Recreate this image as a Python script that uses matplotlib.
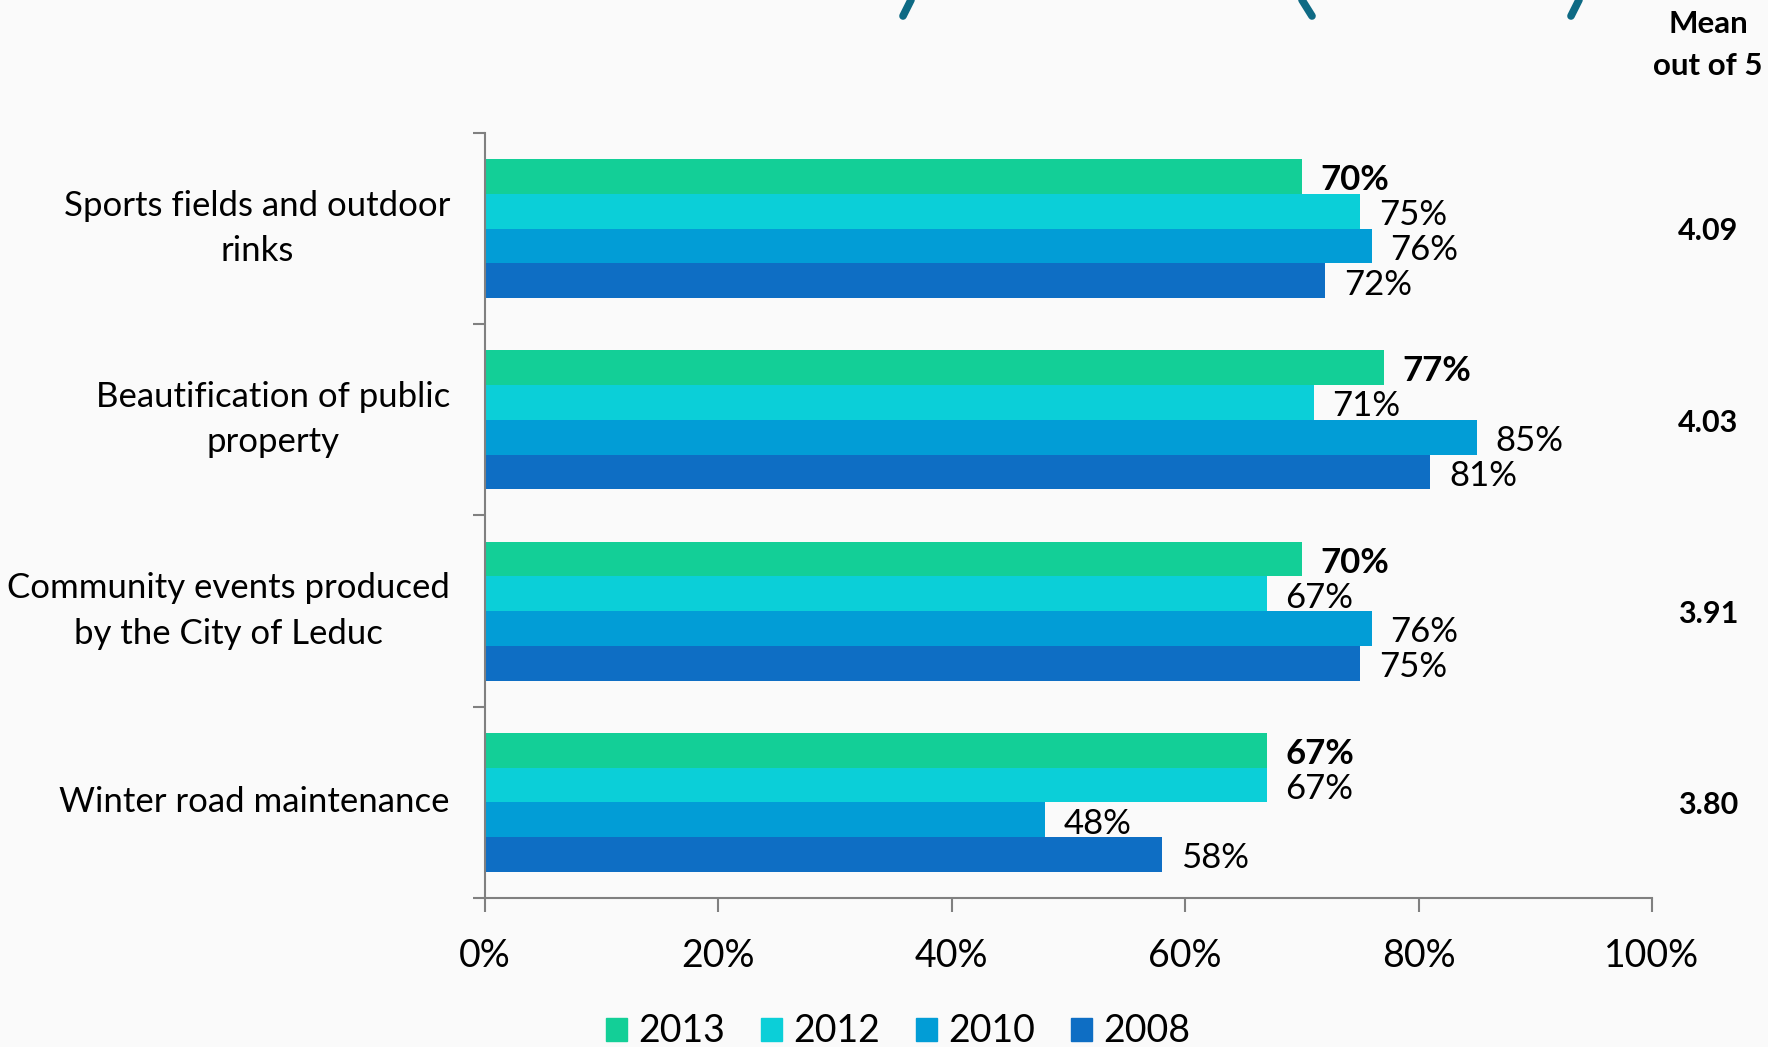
import numpy as np
import matplotlib.pyplot as plt
import matplotlib.transforms as mtransforms
from matplotlib.patches import Patch
from matplotlib.lines import Line2D

# =========================
# DATA
# =========================
categories = ["Sports fields and outdoor\nrinks",
              "Beautification of public\nproperty",
              "Community events produced\nby the City of Leduc",
              "Winter road maintenance"]
years = ["2013", "2012", "2010", "2008"]
val_2013 = [70, 77, 70, 67]
val_2012 = [75, 71, 67, 67]
val_2010 = [76, 85, 76, 48]
val_2008 = [72, 81, 75, 58]
means = ["4.09", "4.03", "3.91", "3.80"]
x_ticks = [0, 20, 40, 60, 80, 100]

colors = ["#13cf97", "#0bcfd8", "#029dd6", "#0e6ec4"]
bg = "#fafafa"
font = "Lato"

plt.rcParams['font.family'] = [font, 'DejaVu Sans']

W, H = 1768, 1047

# =========================
# FIGURE
# =========================
fig = plt.figure(figsize=(W / 100, H / 100), dpi=100, facecolor=bg)
ax = fig.add_axes([0.2743, 0.1423, 0.9344 - 0.2743, 0.8730 - 0.1423])
ax.set_facecolor(bg)

series = [val_2013, val_2012, val_2010, val_2008]
bar_h = 0.182
y = np.arange(len(categories))

for i, (vals, col) in enumerate(zip(series, colors)):
    pos = y + (i - 1.5) * bar_h
    ax.barh(pos, vals, height=bar_h, color=col, label=years[i])
    for p, v in zip(pos, vals):
        ax.text(v + 1.6, p + 0.02, f"{v}%", va='center', ha='left', fontsize=25,
                fontweight='bold' if i == 0 else 'normal', color='black')

ax.set_xlim(0, 100)
ax.set_ylim(len(categories) - 0.5, -0.5)

# axes styling
for s in ['top', 'right']:
    ax.spines[s].set_visible(False)
for s in ['left', 'bottom']:
    ax.spines[s].set_color('#808080')
    ax.spines[s].set_linewidth(1.5)

ax.set_xticks(x_ticks)
ax.set_xticklabels([f"{t}%" for t in x_ticks], fontsize=27)
ax.tick_params(axis='x', length=10, width=1.5, color='#808080', pad=19)

# category labels (drawn as text so the two-line labels space right)
ax.set_yticks([])
ax.set_yticks(np.arange(len(categories) + 1) - 0.5, minor=True)
ax.tick_params(axis='y', which='minor', length=8.5, width=1.5, color='#808080')
off = mtransforms.ScaledTranslation(-35 / 100, 0, fig.dpi_scale_trans)
for yy, lab in zip(y, categories):
    ax.text(0, yy, lab, transform=ax.get_yaxis_transform() + off,
            ha='right', va='center', multialignment='center',
            linespacing=1.51, fontsize=25)

# mean scores on the right
trans = mtransforms.blended_transform_factory(fig.transFigure, ax.transData)
for yy, m in zip(y, means):
    ax.text(0.966, yy + 0.015, m, transform=trans, ha='center', va='center',
            fontsize=22, fontweight='bold', clip_on=False)
fig.text(0.966, 1 - 24 / H, "Mean", ha='center', va='center',
         fontsize=22.5, fontweight='bold')
fig.text(0.966, 1 - 66 / H, "out of 5", ha='center', va='center',
         fontsize=22.5, fontweight='bold')

# cut-off title fragments at the top edge
for xs in [(911, 903), (1302, 1312), (1579, 1571)]:
    fig.add_artist(Line2D([xs[0] / W, xs[1] / W], [1.0, 1 - 16 / H],
                          transform=fig.transFigure, color='#0e6a84',
                          lw=5.5, solid_capstyle='round'))

# legend
handles = [Patch(color=c, label=yr) for c, yr in zip(colors, years)]
fig.legend(handles=handles, loc='center', bbox_to_anchor=(0.508, 0.015),
           ncol=4, frameon=False, fontsize=27, handlelength=0.57,
           handleheight=0.57, handletextpad=0.3, columnspacing=0.95)

fig.savefig("out.png", dpi=100, facecolor=bg)
